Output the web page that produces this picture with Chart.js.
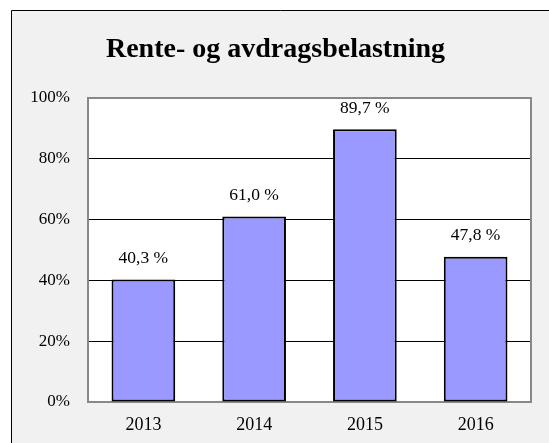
<!DOCTYPE html>
<html>
<head>
<meta charset="utf-8">
<script src="https://cdn.jsdelivr.net/npm/chart.js@4"></script>
<style>
  html, body { margin: 0; padding: 0; background: #fff; }
  #wrap { width: 549px; height: 443px; position: relative; }
</style>
</head>
<body>
<div id="wrap"><canvas id="myChart" width="549" height="443"></canvas></div>
<script>
const years = ['2013', '2014', '2015', '2016'];
const belastning = [40.3, 61.0, 89.7, 47.8];
const yTicks = [0, 20, 40, 60, 80, 100];

const SERIF = '"Liberation Serif", "Times New Roman", serif';

// frame, grey background, white plot area and title
const backdrop = {
  id: 'backdrop',
  beforeDraw(chart) {
    const c = chart.ctx;
    const a = chart.chartArea;
    c.save();
    c.fillStyle = '#fff';
    c.fillRect(0, 0, chart.width, chart.height);
    c.fillStyle = '#f1f1f1';
    c.fillRect(11, 10, chart.width, chart.height);
    c.strokeStyle = '#000';
    c.lineWidth = 1;
    c.beginPath();
    c.moveTo(11.5, chart.height);
    c.lineTo(11.5, 10.5);
    c.lineTo(chart.width, 10.5);
    c.stroke();
    c.fillStyle = '#fff';
    c.fillRect(a.left, a.top, a.right - a.left, a.bottom - a.top);
    c.fillStyle = '#000';
    c.font = 'bold 28px ' + SERIF;
    c.textAlign = 'center';
    c.textBaseline = 'alphabetic';
    c.fillText('Rente- og avdragsbelastning', chart.width / 2 + 1, 57);
    c.restore();
  },
  beforeDatasetsDraw(chart) {
    const c = chart.ctx;
    const a = chart.chartArea;
    c.save();
    c.strokeStyle = '#888';
    c.lineWidth = 2;
    c.strokeRect(a.left, a.top, a.right - a.left, a.bottom - a.top);
    c.restore();
  }
};

const valueLabels = {
  id: 'valueLabels',
  afterDatasetsDraw(chart) {
    const c = chart.ctx;
    const meta = chart.getDatasetMeta(0);
    c.save();
    c.fillStyle = '#000';
    c.font = '17.5px ' + SERIF;
    c.textAlign = 'center';
    c.textBaseline = 'alphabetic';
    meta.data.forEach((bar, i) => {
      const txt = belastning[i].toFixed(1).replace('.', ',') + ' %';
      c.fillText(txt, bar.x, bar.y - 16.5);
    });
    c.restore();
  }
};

const ctx = document.getElementById('myChart');

new Chart(ctx, {
  type: 'bar',
  data: {
    labels: years,
    datasets: [{
      data: belastning,
      backgroundColor: '#9999ff',
      borderColor: '#000',
      borderWidth: 2,
      borderSkipped: false,
      categoryPercentage: 1,
      barPercentage: 0.575
    }]
  },
  options: {
    responsive: false,
    animation: false,
    layout: { padding: { top: 98, right: 18, left: 0, bottom: 0 } },
    plugins: {
      legend: { display: false },
      tooltip: { enabled: false }
    },
    scales: {
      x: {
        grid: { display: false, drawTicks: false },
        border: { display: false },
        ticks: { color: '#000', font: { family: SERIF, size: 18 }, padding: 12 },
        afterFit(scale) { scale.height = 41; }
      },
      y: {
        min: 0,
        max: 100,
        afterBuildTicks(scale) { scale.ticks = yTicks.map(v => ({ value: v })); },
        grid: {
          drawTicks: false,
          color: ctx => ctx.tick && ctx.tick.value === 100 ? 'rgba(0,0,0,0)' : '#000',
          lineWidth: 1
        },
        border: { display: false },
        ticks: {
          color: '#000',
          font: { family: SERIF, size: 17 },
          padding: 18,
          callback: v => v + '%'
        },
        afterFit(scale) { scale.width = 88; }
      }
    }
  },
  plugins: [backdrop, valueLabels]
});
</script>
</body>
</html>
